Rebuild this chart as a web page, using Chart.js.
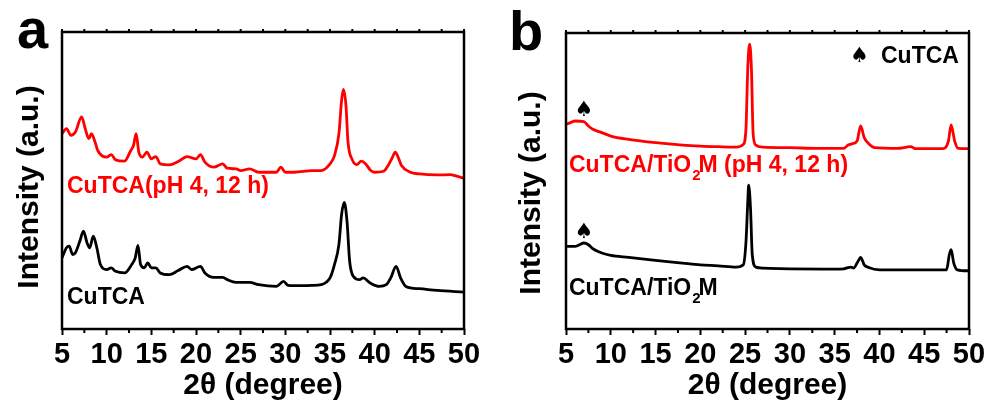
<!DOCTYPE html>
<html><head><meta charset="utf-8">
<script src="https://cdn.jsdelivr.net/npm/chart.js@4.4.1/dist/chart.umd.min.js"></script>
<style>
html,body{margin:0;padding:0;background:#fff;}
#wrap{position:relative;width:992px;height:408px;overflow:hidden;}
.pane{position:absolute;top:0;width:496px;height:408px;}
</style></head><body>
<div id="wrap">
<div class="pane" style="left:0"><canvas id="ca" width="496" height="408"></canvas></div>
<div class="pane" style="left:496px"><canvas id="cb" width="496" height="408"></canvas></div>
</div>
<script>
// ---------- Panel a data (2θ in degrees, intensity in a.u.) ----------
const aRedTheta = [5,5.5,6,6.5,7.2,7.6,8,8.3,8.7,9,10,10.5,11,12,12.7,13,13.3,13.6,14,14.5,15,15.5,16,17,18,19,20,20.5,21,22,23,23.5,24.5,25,26,27,28,29,29.5,30,31,33,34,35,35.5,36,36.3,36.5,36.8,37,37.5,38,38.5,39,39.5,40,41,41.5,42,42.3,42.7,43,44,45,47,48.5,49,50];
const aRedInt = [200,205,198.3,201.7,216.7,205,195,200,191.7,183.3,176.7,179.3,174,172.7,183.3,188.3,200,181.7,176.7,181.7,175,177.3,170,169,172.3,177.3,175,179.3,171.7,166.7,170,165.7,165,163.3,165,161.7,161.7,161.7,166.7,161.7,161.7,163.3,163.3,170,178.3,200,233.3,244,226.7,193.3,174,169.3,172.7,170,164,161.7,162.7,168.3,176.7,181.7,175,168.3,161.7,160,159,159.3,158.3,155.7];

const aBlackTheta = [5,5.5,5.8,6.2,6.5,7,7.4,7.8,8.1,8.5,8.9,9.3,10,10.5,11,12,12.8,13.2,13.5,13.8,14.2,14.6,15,15.5,16,17,18,19,19.5,20.5,21,22,23,23.5,24.5,26,27,29,29.8,30.3,31,33,34,35,35.5,36,36.3,36.6,36.9,37.2,37.6,38.3,38.7,39.5,40.5,41.3,41.8,42.4,42.9,43.5,45,47,50];
const aBlackInt = [76.7,86.7,88.3,80,81.7,93.3,103.3,91.7,86.7,98.3,86.7,70,65,66.7,63.3,61.7,70,76.7,89,70,66.7,71.7,66.7,66.7,61.7,60,64,68.3,65,68.3,61.7,57.3,57.3,55,52.3,52.3,50,48.3,53.3,49.3,49,49.3,50,56.7,70,90,120,131.7,113.3,73.3,58.3,55,56.7,51.7,48.3,50,56.7,68.3,56.7,48.3,46,44.3,42.7];

// ---------- Panel b data ----------
const bRedTheta = [5,5.5,6,7,7.5,8,9,10,12,15,18,20,22,24,24.8,25.1,25.3,25.5,25.7,25.9,26.2,27,30,33,36,36.5,37,37.5,37.9,38.3,38.8,39.5,42,43.5,44,47,47.7,48.0,48.4,48.8,50];
const bRedInt = [210,211.7,213.3,212.7,208.3,205,201.7,198.3,195,191.7,189.3,188.3,187.7,187.3,190,206.7,266.7,290,266.7,200,189.3,187.3,186.7,186,186,189.3,190.7,193.3,208.3,196.7,190.7,186.7,186,187.7,185.7,185.7,193.3,209.3,193.3,186,185.7];

const bBlackTheta = [5,6,6.5,7,7.5,8,9,10,12,15,18,20,22,24,24.8,25.1,25.3,25.4,25.6,25.8,26.2,27,30,34,36,36.8,37.1,37.6,37.9,38.3,38.8,40,45,47.5,47.8,48.0,48.3,48.7,50];
const bBlackInt = [88.3,88.3,90,91.7,90,86,81.7,79.3,77.3,74.3,71.7,70,69,67.7,70,93.3,133.3,149.3,126.7,80,67.7,66.7,66,65.7,66,67.7,66.7,73.3,77.3,70,67.3,65,65,65,80,85,71.7,65,64];

// ---------- Axes ----------
const xMajorTicks = [5,10,15,20,25,30,35,40,45,50];
const xMinorTicks = [7.5,12.5,17.5,22.5,27.5,32.5,37.5,42.5,47.5];
const xTitle = '2θ (degree)';
const yTitle = 'Intensity (a.u.)';

// ---------- Text labels ----------
const aLabels = [
  {text: 'CuTCA(pH 4, 12 h)', x: 5.56, y: 147.3, color: '#ff0000'},
  {text: 'CuTCA', x: 5.56, y: 37.3, color: '#000000'}
];
const bLabels = [
  {text: ['CuTCA/TiO', '2', 'M (pH 4, 12 h)'], x: 5.33, y: 168.3, color: '#ff0000'},
  {text: ['CuTCA/TiO', '2', 'M'], x: 5.33, y: 46.3, color: '#000000'},
  {text: 'CuTCA', x: 40.17, y: 277.3, color: '#000000'}
];
const bMarkers = [
  {x: 7.0, y: 223.3}, {x: 7.0, y: 101.8}, {x: 37.77, y: 277.3}
];

const FONT = "'Liberation Sans', Arial, Helvetica, sans-serif";

function makePlugin(panelLetter, letterPos, yTitlePos, labels, markers) {
  return {
    id: 'deco',
    afterDraw(chart) {
      const {ctx, chartArea: ca, scales: {x, y}} = chart;
      ctx.save();
      // frame
      ctx.strokeStyle = '#000';
      ctx.lineWidth = 2.5;
      ctx.strokeRect(ca.left, ca.top, ca.right - ca.left, ca.bottom - ca.top);
      // minor ticks bottom
      ctx.lineWidth = 2;
      ctx.beginPath();
      for (const v of xMinorTicks) {
        const px = x.getPixelForValue(v);
        ctx.moveTo(px, ca.bottom); ctx.lineTo(px, ca.bottom + 4);
      }
      // top ticks
      for (const v of xMajorTicks.concat(xMinorTicks)) {
        const px = x.getPixelForValue(v);
        ctx.moveTo(px, ca.top); ctx.lineTo(px, ca.top - 3);
      }
      ctx.stroke();
      // y axis title
      ctx.save();
      ctx.translate(yTitlePos[0], yTitlePos[1]);
      ctx.rotate(-Math.PI / 2);
      ctx.textAlign = 'center';
      ctx.textBaseline = 'middle';
      ctx.fillStyle = '#000';
      ctx.font = 'bold 30px ' + FONT;
      ctx.fillText(yTitle, 0, 0);
      ctx.restore();
      // labels
      ctx.textBaseline = 'middle';
      ctx.textAlign = 'left';
      for (const L of labels) {
        let px = x.getPixelForValue(L.x);
        const py = y.getPixelForValue(L.y);
        ctx.fillStyle = L.color;
        if (Array.isArray(L.text)) {
          ctx.font = 'bold 23px ' + FONT;
          ctx.fillText(L.text[0], px, py);
          px += ctx.measureText(L.text[0]).width + 1;
          ctx.font = 'bold 15px ' + FONT;
          ctx.fillText(L.text[1], px, py + 10);
          px += ctx.measureText(L.text[1]).width - 2;
          ctx.font = 'bold 23px ' + FONT;
          ctx.fillText(L.text[2], px, py);
        } else {
          ctx.font = 'bold 23px ' + FONT;
          ctx.fillText(L.text, px, py);
        }
      }
      ctx.textAlign = 'center';
      ctx.fillStyle = '#000';
      ctx.font = "21px 'DejaVu Sans'";
      for (const m of markers) {
        ctx.fillText('\u2660', x.getPixelForValue(m.x), y.getPixelForValue(m.y));
      }
      // panel letter
      ctx.textAlign = 'left';
      ctx.textBaseline = 'alphabetic';
      ctx.font = 'bold 56px ' + FONT;
      ctx.fillText(panelLetter, letterPos[0], letterPos[1]);
      ctx.restore();
    }
  };
}

function makeChart(id, red, black, pad, yWidth, plugin) {
  return new Chart(document.getElementById(id), {
    type: 'line',
    data: {
      datasets: [
        {data: red[0].map((t, i) => ({x: t, y: red[1][i]})), borderColor: '#ff0000', borderWidth: 2.8, pointRadius: 0, cubicInterpolationMode: 'monotone', fill: false},
        {data: black[0].map((t, i) => ({x: t, y: black[1][i]})), borderColor: '#000000', borderWidth: 2.8, pointRadius: 0, cubicInterpolationMode: 'monotone', fill: false}
      ]
    },
    options: {
      responsive: false,
      animation: false,
      events: [],
      layout: {padding: pad},
      plugins: {legend: {display: false}, tooltip: {enabled: false}},
      scales: {
        x: {
          type: 'linear', min: 5, max: 50,
          afterBuildTicks: s => { s.ticks = xMajorTicks.map(v => ({value: v})); },
          afterFit: s => { s.height = 77; },
          ticks: {color: '#000', font: {family: FONT, size: 29, weight: 'bold'}, padding: 3, autoSkip: false, maxRotation: 0},
          grid: {display: true, drawOnChartArea: false, drawTicks: true, tickLength: 6, tickWidth: 2, tickColor: '#000'},
          border: {display: false},
          title: {display: true, text: xTitle, color: '#000', font: {family: FONT, size: 30, weight: 'bold'}, padding: {top: 0, bottom: 2}}
        },
        y: {
          min: 6, max: 301,
          afterFit: s => { s.width = yWidth; },
          ticks: {display: false},
          grid: {display: false},
          border: {display: false},
          title: {display: false}
        }
      }
    },
    plugins: [plugin]
  });
}

makeChart('ca', [aRedTheta, aRedInt], [aBlackTheta, aBlackInt], {left: 12, right: 32, top: 32, bottom: 2}, 50,
  makePlugin('a', [17, 48], [30, 187], aLabels, []));
makeChart('cb', [bRedTheta, bRedInt], [bBlackTheta, bBlackInt], {left: 18, right: 23, top: 33, bottom: 2}, 52,
  makePlugin('b', [13, 50], [36, 193], bLabels, bMarkers));
</script>
</body></html>
